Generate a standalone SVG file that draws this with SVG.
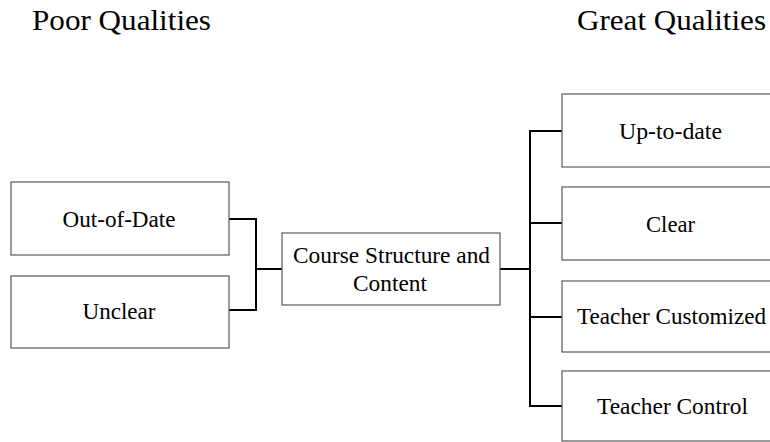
<svg xmlns="http://www.w3.org/2000/svg" width="770" height="442" viewBox="0 0 770 442">
  <style>
    .box { fill: #ffffff; stroke: #595959; stroke-width: 1.2; }
    .lbl { font-family: 'Liberation Serif', Tinos, 'Times New Roman', Times, serif; font-size: 23px; fill: #000000; text-anchor: middle; }
    .title { font-family: 'Liberation Serif', Tinos, 'Times New Roman', Times, serif; font-size: 30px; fill: #000000; }
    .conn { fill: none; stroke: #000000; stroke-width: 2; }
  </style>
  <rect x="0" y="0" width="770" height="442" fill="#ffffff"/>
  <g id="titles">
    <text class="title" x="32" y="30" textLength="179" lengthAdjust="spacingAndGlyphs">Poor Qualities</text>
    <text class="title" x="577" y="30" textLength="189" lengthAdjust="spacingAndGlyphs">Great Qualities</text>
  </g>
  <g id="connectors">
    <polyline class="conn" points="229,219 256,219 256,310 229,310"/>
    <line class="conn" x1="256" y1="269" x2="282" y2="269"/>
    <line class="conn" x1="500" y1="269" x2="530" y2="269"/>
    <polyline class="conn" points="562,131 530,131 530,406 562,406"/>
    <line class="conn" x1="530" y1="223" x2="562" y2="223"/>
    <line class="conn" x1="530" y1="317" x2="562" y2="317"/>
  </g>
  <g id="out-of-date">
    <rect class="box" x="11" y="182" width="218" height="73"/>
    <text class="lbl" x="119" y="227" textLength="113" lengthAdjust="spacingAndGlyphs">Out-of-Date</text>
  </g>
  <g id="unclear">
    <rect class="box" x="11" y="276" width="218" height="72"/>
    <text class="lbl" x="119" y="319" textLength="73" lengthAdjust="spacingAndGlyphs">Unclear</text>
  </g>
  <g id="course">
    <rect class="box" x="282" y="233" width="218" height="72"/>
    <text class="lbl" x="391.5" y="263" textLength="197" lengthAdjust="spacingAndGlyphs">Course Structure and</text>
    <text class="lbl" x="390" y="291" textLength="74" lengthAdjust="spacingAndGlyphs">Content</text>
  </g>
  <g id="up-to-date">
    <rect class="box" x="562" y="94" width="220" height="73"/>
    <text class="lbl" x="670.5" y="139" textLength="103" lengthAdjust="spacingAndGlyphs">Up-to-date</text>
  </g>
  <g id="clear">
    <rect class="box" x="562" y="187" width="220" height="73"/>
    <text class="lbl" x="670.5" y="232" textLength="49" lengthAdjust="spacingAndGlyphs">Clear</text>
  </g>
  <g id="teacher-customized">
    <rect class="box" x="562" y="281" width="220" height="71"/>
    <text class="lbl" x="671.5" y="324" textLength="189" lengthAdjust="spacingAndGlyphs">Teacher Customized</text>
  </g>
  <g id="teacher-control">
    <rect class="box" x="562" y="371" width="220" height="70"/>
    <text class="lbl" x="672.5" y="414" textLength="151" lengthAdjust="spacingAndGlyphs">Teacher Control</text>
  </g>
</svg>
